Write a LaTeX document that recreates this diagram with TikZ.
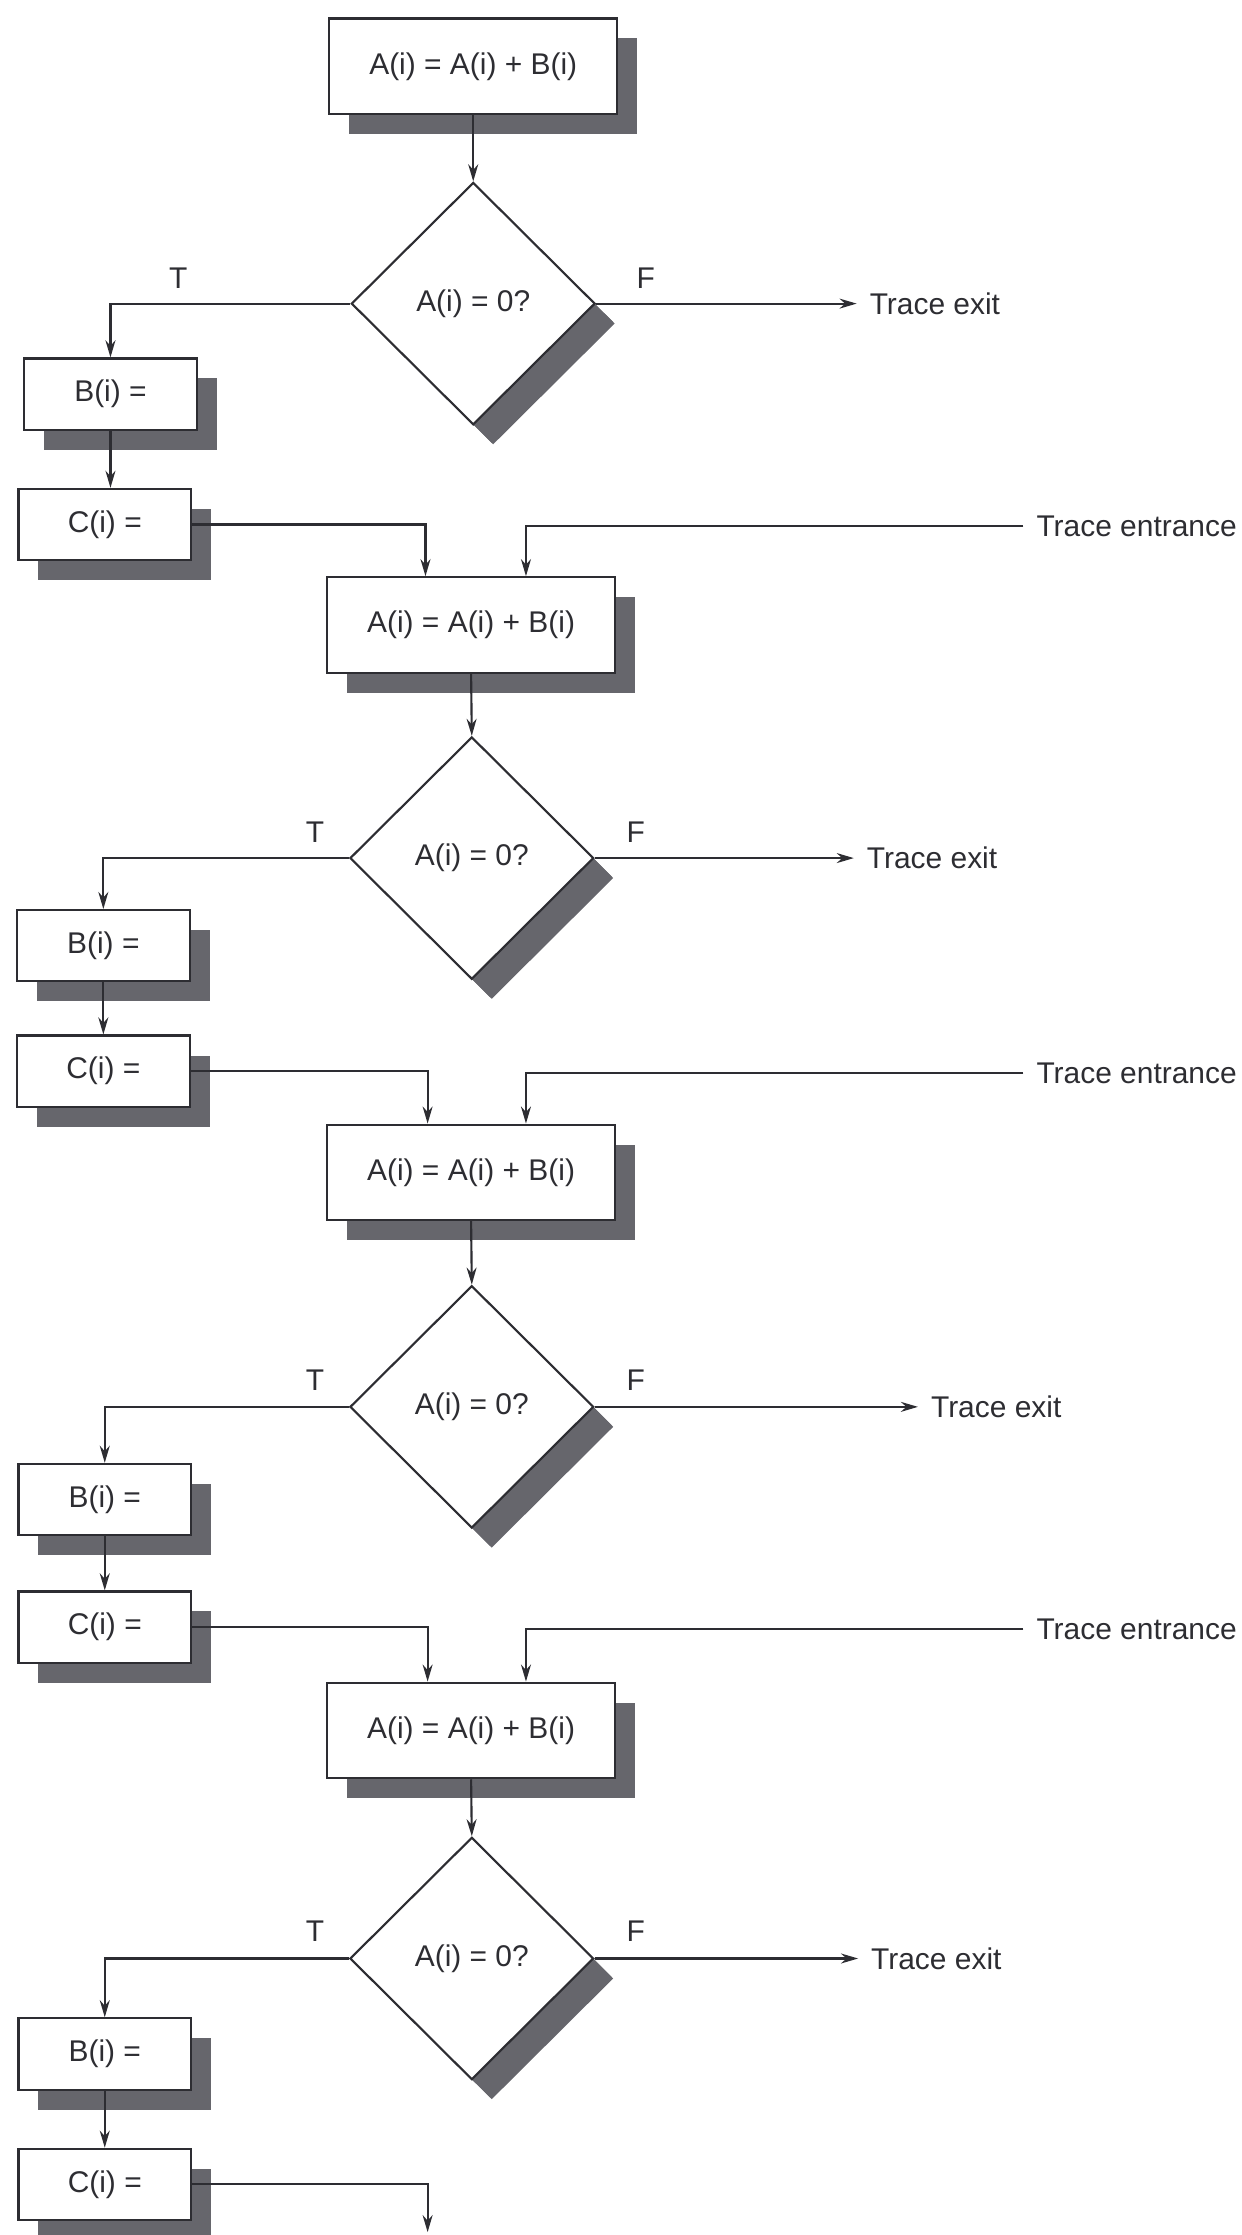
\documentclass[tikz,border=0pt]{standalone}
\usepackage{fontspec}
\setmainfont{Liberation Sans}
\usetikzlibrary{shapes.geometric,shadows,arrows.meta}
\definecolor{shadowgray}{RGB}{102,102,108}
\definecolor{linec}{RGB}{45,45,50}
\tikzset{
  base/.style={draw=linec, line width=1.5pt, fill=white, inner sep=0pt,
    font=\fontsize{21}{25}\selectfont, text=linec,
    drop shadow={shadow xshift=14pt, shadow yshift=-14pt, fill=shadowgray, opacity=1}},
  abox/.style={base, rectangle, minimum width=202pt, minimum height=67pt},
  sbox/.style={base, rectangle, minimum width=121pt, minimum height=50pt},
  dec/.style={base, diamond, minimum width=171pt, minimum height=170pt,
    drop shadow={shadow xshift=13pt, shadow yshift=-13pt, fill=shadowgray, opacity=1}},
  lbl/.style={font=\fontsize{21}{25}\selectfont, text=linec, inner sep=0pt},
  ext/.style={font=\fontsize{21}{25}\selectfont, text=linec, inner sep=9pt, anchor=west},
  conn/.style={draw=linec, line width=1.5pt},
  arr/.style={conn, -{Stealth[length=12pt,width=7pt]}}
}
\begin{document}
\begin{tikzpicture}[x=1pt,y=-1pt]
\useasboundingbox (0,0) rectangle (871,1568);

% ---------- Block 1 ----------
\node[abox] (A1) at (332,46.5) {A(i) = A(i) + B(i)};
\node[dec]  (D1) at (332,213) {A(i) = 0?};
\node[sbox] (B1) at (77.5,276.5) {B(i) =};
\node[sbox] (C1) at (73.5,368) {C(i) =};
\node[lbl] (T1) at (125,195) {T};
\node[lbl] (F1) at (453,195) {F};
\node[ext] (X1) at (601,213) {Trace exit};

% ---------- Block 2 ----------
\node[abox] (A2) at (330.5,438.5) {A(i) = A(i) + B(i)};
\node[dec]  (D2) at (331,602) {A(i) = 0?};
\node[sbox] (B2) at (72.5,663.5) {B(i) =};
\node[sbox] (C2) at (72.5,751.5) {C(i) =};
\node[lbl] (T2) at (221,584) {T};
\node[lbl] (F2) at (446,584) {F};
\node[ext] (X2) at (599,602) {Trace exit};
\node[ext] (E2) at (718,369) {Trace entrance};

% ---------- Block 3 ----------
\node[abox] (A3) at (330.5,822.5) {A(i) = A(i) + B(i)};
\node[dec]  (D3) at (331,987) {A(i) = 0?};
\node[sbox] (B3) at (73.5,1052) {B(i) =};
\node[sbox] (C3) at (73.5,1141.5) {C(i) =};
\node[lbl] (T3) at (221,968) {T};
\node[lbl] (F3) at (446,968) {F};
\node[ext] (X3) at (644,987) {Trace exit};
\node[ext] (E3) at (718,753) {Trace entrance};

% ---------- Block 4 ----------
\node[abox] (A4) at (330.5,1214) {A(i) = A(i) + B(i)};
\node[dec]  (D4) at (331,1374) {A(i) = 0?};
\node[sbox] (B4) at (73.5,1441) {B(i) =};
\node[sbox] (C4) at (73.5,1532.5) {C(i) =};
\node[lbl] (T4) at (221,1355) {T};
\node[lbl] (F4) at (446,1355) {F};
\node[ext] (X4) at (602,1374) {Trace exit};
\node[ext] (E4) at (718,1143) {Trace entrance};

\coordinate (end) at (300,1566);

% ---------- connectors ----------
\foreach \i in {1,2,3,4}{
  \draw[arr] (A\i.south) -- (D\i.north);
  \draw[arr] (D\i.west) -| (B\i.north);
  \draw[arr] (B\i.south) -- (B\i.south |- C\i.north);
  \draw[arr] (D\i.east) -- (X\i.west);
}
\draw[arr] (C1.east) -| ([xshift=-32pt]A2.north);
\draw[arr] (C2.east) -| ([xshift=-30.5pt]A3.north);
\draw[arr] (C3.east) -| ([xshift=-30.5pt]A4.north);
\draw[arr] (C4.east) -| (end);
\draw[arr] (E2.west) -| ([xshift=38.5pt]A2.north);
\draw[arr] (E3.west) -| ([xshift=38.5pt]A3.north);
\draw[arr] (E4.west) -| ([xshift=38.5pt]A4.north);
\end{tikzpicture}
\end{document}
